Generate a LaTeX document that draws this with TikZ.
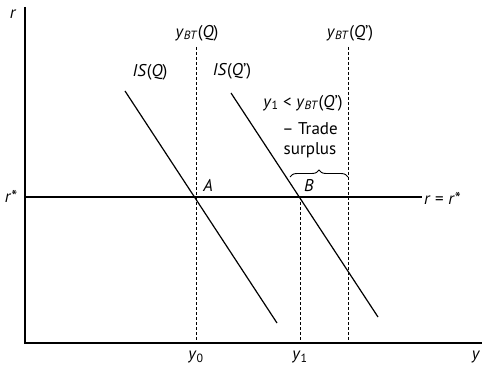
\documentclass[tikz,border=0pt]{standalone}
\usepackage{fontspec}
\setmainfont{PT Sans}
\usetikzlibrary{decorations.pathreplacing}
\newcommand{\ybt}{\textit{y}\textsubscript{\textit{BT}}}
\begin{document}
\begin{tikzpicture}[x=1pt,y=-1pt,
  lbl/.style={inner sep=0pt,font=\fontsize{17}{19}\selectfont},
  curve/.style={line width=1.2pt},
  guide/.style={line width=0.9pt,dash pattern=on 3pt off 2pt},
  axis/.style={line width=1.3pt}]
\useasboundingbox (0,0) rectangle (482,366);
% axes
\coordinate (O) at (25,343);
\coordinate (Ytop) at (25,7);
\coordinate (Xend) at (482,343);
\draw[axis] (Ytop) -- (O) -- (Xend);
\node[lbl] (rlab) at (13,14) {\textit{r}};
\node[lbl] (ylab) at (476,357) {\textit{y}};
% r* line
\coordinate (rs0) at (25,197);
\coordinate (rs1) at (422,197);
\draw[curve] (rs0) -- (rs1);
\node[lbl] (rstar) at (11,196) {\textit{r}*};
\node[lbl,anchor=west] (rr) at (424,198) {\textit{r} = \textit{r}*};
% dashed verticals
\coordinate (d0t) at (196,47); \coordinate (d0b) at (196,343);
\coordinate (d1t) at (300,197); \coordinate (d1b) at (300,343);
\coordinate (d2t) at (348,47); \coordinate (d2b) at (348,343);
\draw[guide] (d0t) -- (d0b);
\draw[guide] (d1t) -- (d1b);
\draw[guide] (d2t) -- (d2b);
\node[lbl] (ybtq) at (197,33) {\ybt(\textit{Q})};
\node[lbl] (ybtqp) at (350,33) {\ybt(\textit{Q}’)};
% IS curves
\coordinate (is1a) at (125,91); \coordinate (is1b) at (277,323);
\coordinate (is2a) at (231,93); \coordinate (is2b) at (378,317);
\draw[curve] (is1a) -- (is1b);
\draw[curve] (is2a) -- (is2b);
\node[lbl] (isq) at (150,72) {\textit{IS}(\textit{Q})};
\node[lbl] (isqp) at (232,71) {\textit{IS}(\textit{Q}’)};
% points
\node[lbl] (A) at (208,185) {\textit{A}};
\node[lbl] (B) at (309,186) {\textit{B}};
% annotation
\node[lbl] (ineq) at (303,103) {\textit{y}\textsubscript{1} < \ybt(\textit{Q}’)};
\node[lbl] (trade) at (310,129) {– Trade};
\node[lbl] (surp) at (310,150) {surplus};
\coordinate (br0) at (290,177); \coordinate (br1) at (348,177);
\draw[decorate,decoration={brace,amplitude=7pt},line width=0.9pt] (br0) -- (br1);
% axis labels
\node[lbl] (y0) at (196,357) {\textit{y}\textsubscript{0}};
\node[lbl] (y1) at (300,357) {\textit{y}\textsubscript{1}};
\end{tikzpicture}
\end{document}
